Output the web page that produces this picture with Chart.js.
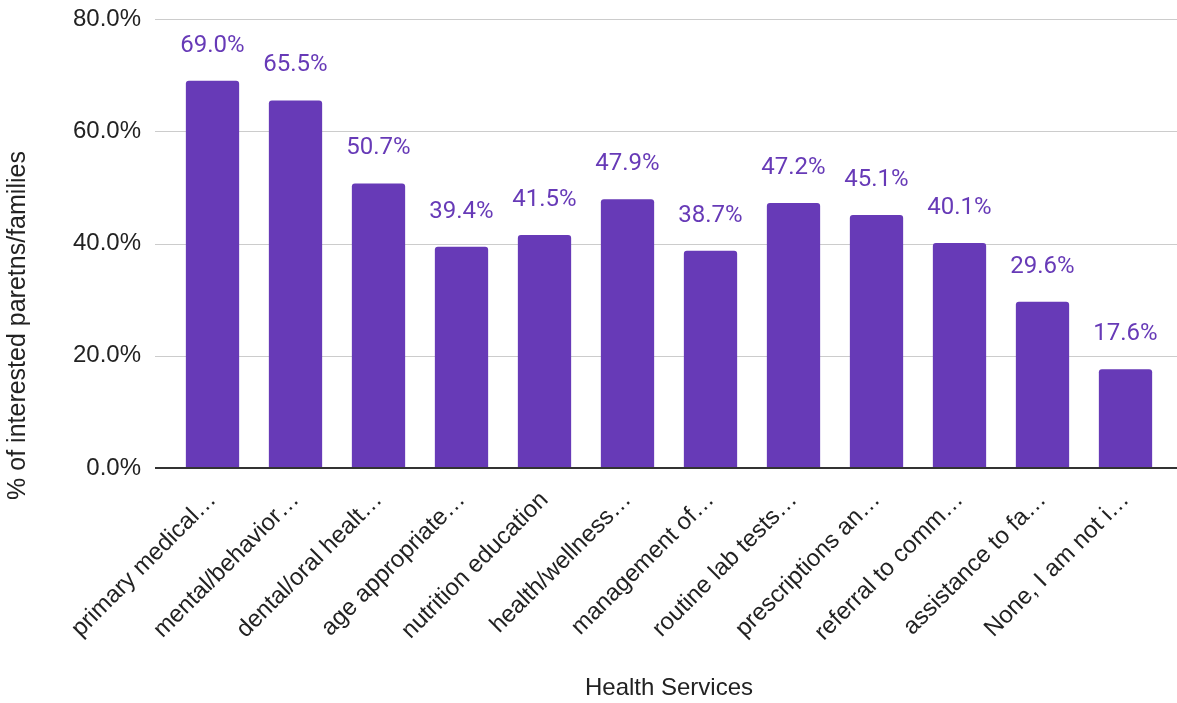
<!DOCTYPE html>
<html>
<head>
<meta charset="utf-8">
<script src="https://cdn.jsdelivr.net/npm/chart.js@4/dist/chart.umd.min.js"></script>
<style>
  html, body { margin: 0; padding: 0; background: #ffffff; }
  #wrap { width: 1177px; height: 703px; position: relative; }
</style>
</head>
<body>
<div id="wrap"><canvas id="c" width="1177" height="703"></canvas></div>
<script>
const categories = [
  "primary medical\u2026",
  "mental/behavior\u2026",
  "dental/oral healt\u2026",
  "age appropriate\u2026",
  "nutrition education",
  "health/wellness\u2026",
  "management of\u2026",
  "routine lab tests\u2026",
  "prescriptions an\u2026",
  "referral to comm\u2026",
  "assistance to fa\u2026",
  "None, I am not i\u2026"
];
const values = [69.0, 65.5, 50.7, 39.4, 41.5, 47.9, 38.7, 47.2, 45.1, 40.1, 29.6, 17.6];
const yTicks = [0, 20, 40, 60, 80];
const xTitle = "Health Services";
const yTitle = "% of interested paretns/families";

const BAR = '#673ab7';
const TEXT = '#222222';
const AXIS_FONT = 'Arial, "Liberation Sans", sans-serif';

const decor = {
  id: 'decor',
  beforeDatasetsDraw(chart) {
    const ctx = chart.ctx, y = chart.scales.y, a = chart.chartArea;
    ctx.save();
    ctx.strokeStyle = '#cccccc';
    ctx.lineWidth = 1;
    yTicks.forEach(v => {
      if (v === 0) return;
      const py = Math.round(y.getPixelForValue(v)) + 0.5;
      ctx.beginPath();
      ctx.moveTo(a.left - 16, py);
      ctx.lineTo(chart.width, py);
      ctx.stroke();
    });
    ctx.restore();
  },
  afterDatasetsDraw(chart) {
    const ctx = chart.ctx, y = chart.scales.y, a = chart.chartArea;
    ctx.save();
    // baseline
    const p0 = Math.round(y.getPixelForValue(0));
    ctx.strokeStyle = '#333333';
    ctx.lineWidth = 2;
    ctx.beginPath();
    ctx.moveTo(a.left - 16, p0);
    ctx.lineTo(chart.width, p0);
    ctx.stroke();
    // data labels
    const meta = chart.getDatasetMeta(0);
    ctx.fillStyle = BAR;
    ctx.font = '24px Roboto, sans-serif';
    ctx.textAlign = 'center';
    ctx.textBaseline = 'alphabetic';
    meta.data.forEach((bar, i) => {
      ctx.fillText(values[i].toFixed(1) + '%', bar.x, bar.y - 29);
    });
    // y axis title
    ctx.fillStyle = TEXT;
    ctx.font = '25px ' + AXIS_FONT;
    ctx.translate(18, (a.top + a.bottom) / 2 + 82);
    ctx.rotate(-Math.PI / 2);
    ctx.textAlign = 'center';
    ctx.textBaseline = 'middle';
    ctx.fillText(yTitle, 0, 0);
    ctx.restore();
  }
};

new Chart(document.getElementById('c'), {
  type: 'bar',
  data: {
    labels: categories,
    datasets: [{
      data: values,
      backgroundColor: BAR,
      borderRadius: { topLeft: 3, topRight: 3, bottomLeft: 0, bottomRight: 0 },
      borderSkipped: 'bottom',
      categoryPercentage: 1.0,
      barPercentage: 0.642
    }]
  },
  options: {
    responsive: false,
    animation: false,
    devicePixelRatio: 1,
    layout: { padding: { top: 19, right: 10, bottom: 0, left: 0 } },
    plugins: { legend: { display: false }, tooltip: { enabled: false } },
    scales: {
      x: {
        grid: { display: false, drawTicks: false },
        border: { display: false },
        ticks: {
          autoSkip: false,
          maxRotation: 45,
          minRotation: 45,
          padding: 18,
          color: TEXT,
          font: { family: AXIS_FONT, size: 24 }
        },
        title: {
          display: true,
          text: xTitle,
          color: TEXT,
          font: { family: AXIS_FONT, size: 24 },
          padding: { top: 0, bottom: 0 }
        },
        afterFit(s) { s.height = 235; s.paddingLeft = 0; s.paddingRight = 0; }
      },
      y: {
        min: 0,
        max: 80,
        afterBuildTicks(s) { s.ticks = yTicks.map(v => ({ value: v })); },
        grid: { display: false, drawTicks: false },
        border: { display: false },
        ticks: {
          padding: 30,
          color: TEXT,
          font: { family: AXIS_FONT, size: 24 },
          callback: v => v.toFixed(1) + '%'
        },
        afterFit(s) { s.width = 171; s.paddingTop = 0; s.paddingBottom = 0; }
      }
    }
  },
  plugins: [decor]
});
</script>
</body>
</html>
